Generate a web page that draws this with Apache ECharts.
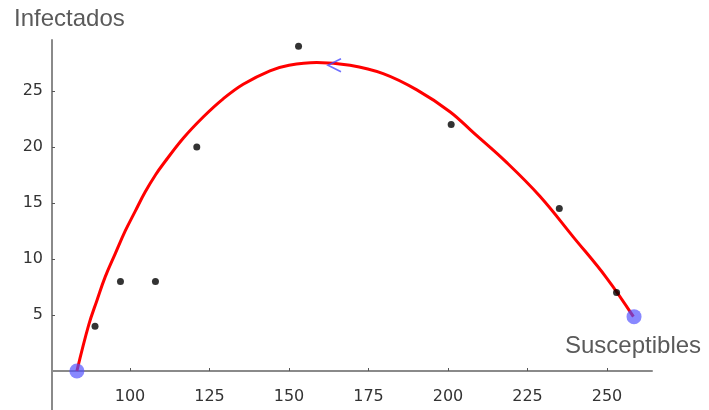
<!DOCTYPE html>
<html>
<head>
<meta charset="utf-8">
<script src="https://cdn.jsdelivr.net/npm/echarts@6/dist/echarts.min.js"></script>
<style>html,body{margin:0;padding:0;background:#fff}#c{width:709px;height:410px}</style>
</head>
<body>
<div id="c"></div>
<script>
// Observed data points (Susceptibles, Infectados)
const obsS = [89, 97, 108, 121, 153, 201, 235, 253];
const obsI = [4, 8, 8, 20, 29, 22, 14.5, 7];
// Fitted trajectory
const curveS = [83.3, 87.0, 89.6, 92.2, 95.4, 98.5, 101.7, 104.8, 108.0, 110.5, 116.8, 123.1, 129.3, 135.6, 144.0, 150.0, 158.7, 169.2, 179.6, 190.2, 200.6, 207.9, 218.5, 228.9, 239.3, 249.9, 258.3];
const curveI = [0, 4.1, 6.3, 8.4, 10.5, 12.5, 14.3, 16.0, 17.5, 18.5, 20.8, 22.7, 24.3, 25.6, 26.8, 27.3, 27.55, 27.3, 26.55, 25.1, 23.15, 21.3, 18.6, 15.6, 12.0, 8.3, 4.85];
// Start / end markers and direction arrow
const endS = [83.3, 258.5];
const endI = [0, 4.85];
const arrowS = [164.3];
const arrowI = [27.3];
// Tick labels
const xTicks = [100, 125, 150, 175, 200, 225, 250];
const yTicks = [5, 10, 15, 20, 25];

const zip = (a, b) => a.map((v, i) => [v, b[i]]);
const chart = echarts.init(document.getElementById('c'), null, {renderer: 'canvas'});
const axisColor = '#8a8a8a';
const labelStyle = {color: '#333', fontFamily: 'DejaVu Sans', fontSize: 16};
chart.setOption({
  animation: false,
  backgroundColor: '#fff',
  grid: [
    {left: 52, right: 57, top: 40, bottom: 39, containLabel: false, outerBoundsMode: 'none'},
    {left: 52, right: 57, top: 371, bottom: 0, containLabel: false, outerBoundsMode: 'none'}
  ],
  xAxis: [
    {
      type: 'value', gridIndex: 0, min: 75.47, max: 264.15,
      axisLine: {onZero: false, lineStyle: {color: axisColor, width: 2}},
      axisTick: {show: true, inside: true, length: 3, customValues: xTicks, lineStyle: {color: '#555'}},
      axisLabel: {customValues: xTicks, margin: 18, ...labelStyle},
      splitLine: {show: false}
    },
    {
      type: 'value', gridIndex: 1, min: 75.47, max: 264.15, show: false
    }
  ],
  yAxis: [
    {
      type: 'value', gridIndex: 0, min: 0, max: 29.55,
      axisLine: {show: true, onZero: false, lineStyle: {color: axisColor, width: 2}},
      axisTick: {show: true, inside: true, length: 3, customValues: yTicks, lineStyle: {color: '#555'}},
      axisLabel: {customValues: yTicks, margin: 9, ...labelStyle},
      splitLine: {show: false}
    },
    {
      type: 'value', gridIndex: 1, min: -3.48, max: 0,
      axisLine: {show: true, onZero: false, lineStyle: {color: axisColor, width: 2}},
      axisTick: {show: false}, axisLabel: {show: false}, splitLine: {show: false}
    }
  ],
  graphic: [
    {type: 'text', left: 14, top: 7, style: {text: 'Infectados', fill: '#5a5a5a', font: '24px "Liberation Sans", Arial, sans-serif'}},
    {type: 'text', left: 565, top: 334, style: {text: 'Susceptibles', fill: '#5a5a5a', font: '24px "Liberation Sans", Arial, sans-serif'}}
  ],
  series: [
    {
      type: 'line', data: zip(curveS, curveI), smooth: 0.4, showSymbol: false, clip: false,
      lineStyle: {color: '#ff0000', width: 3}, z: 2
    },
    {
      type: 'scatter', data: zip(obsS, obsI), symbol: 'circle', symbolSize: 7, clip: false,
      itemStyle: {color: '#000'}, z: 3
    },
    {
      type: 'scatter', data: zip(endS, endI), symbol: 'circle', symbolSize: 15, clip: false,
      itemStyle: {color: 'rgba(80,80,255,0.85)'}, z: 4
    },
    {
      type: 'scatter', data: zip(arrowS, arrowI), clip: false,
      symbol: 'path://M10,0 L0,5 L10,10', symbolSize: [13, 13],
      itemStyle: {color: 'none', borderColor: '#4a4aff', borderWidth: 1.6}, z: 5
    }
  ]
});
</script>
</body>
</html>
